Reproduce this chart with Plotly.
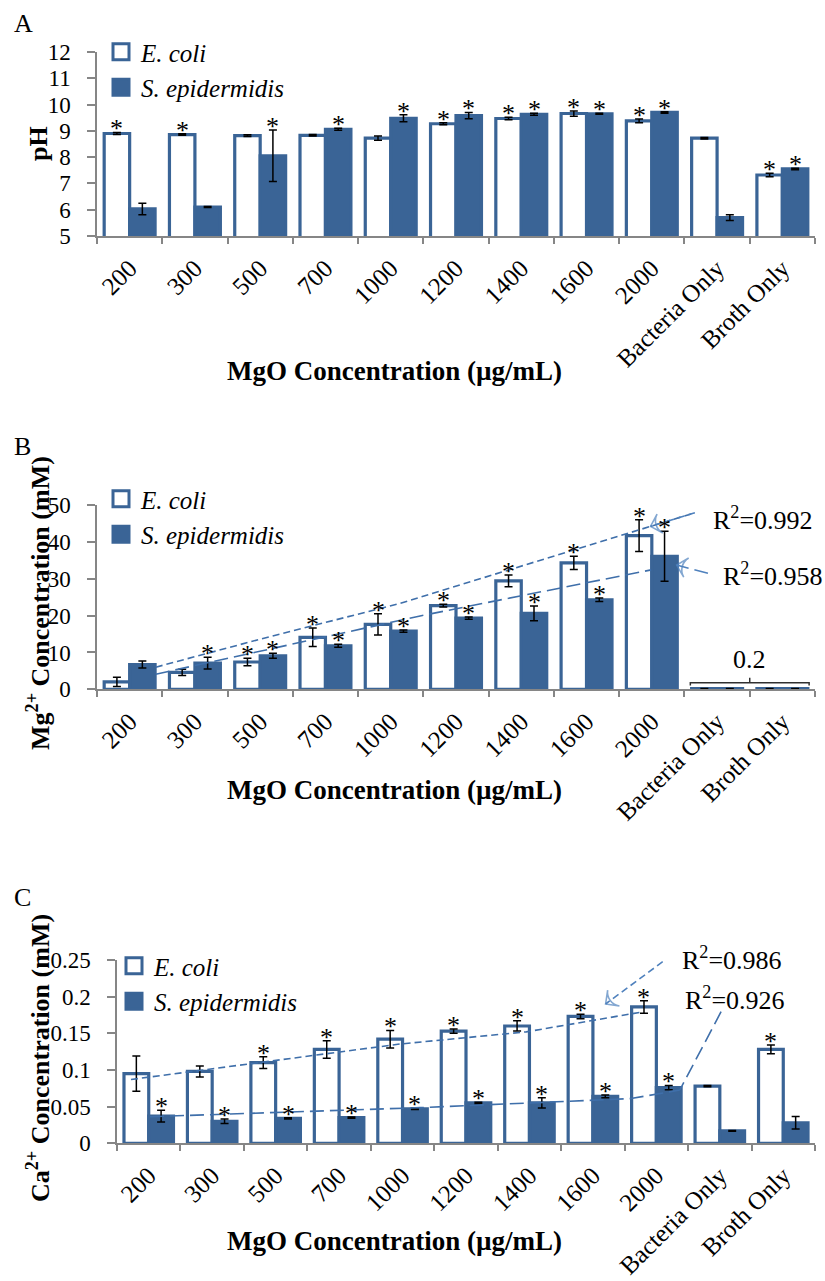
import plotly.graph_objects as go

# ---------------- data ----------------
categories = ["200", "300", "500", "700", "1000", "1200", "1400", "1600", "2000",
              "Bacteria Only", "Broth Only"]

# Panel A: pH
ph_ecoli = [8.90, 8.86, 8.82, 8.83, 8.72, 9.27, 9.47, 9.66, 9.38, 8.72, 7.32]
ph_ecoli_err = [0.04, 0.03, 0.03, 0.03, 0.08, 0.04, 0.05, 0.10, 0.07, 0.03, 0.07]
ph_sepi = [6.03, 6.10, 8.05, 9.06, 9.48, 9.58, 9.63, 9.65, 9.70, 5.70, 7.55]
ph_sepi_err = [0.22, 0.02, 0.98, 0.04, 0.13, 0.12, 0.04, 0.02, 0.03, 0.11, 0.03]
ph_ecoli_sig = [1, 1, 0, 0, 0, 1, 1, 1, 1, 0, 1]
ph_sepi_sig = [0, 0, 1, 1, 1, 1, 1, 1, 1, 0, 1]

# Panel B: Mg2+ (mM)
mg_ecoli = [2.0, 4.6, 7.4, 14.1, 17.6, 22.7, 29.4, 34.3, 41.7, 0.2, 0.2]
mg_ecoli_err = [1.25, 0.85, 1.0, 2.5, 2.9, 0.4, 1.6, 1.8, 4.3, 0.05, 0.05]
mg_sepi = [6.7, 7.1, 9.1, 11.8, 15.8, 19.3, 20.6, 24.3, 36.1, 0.2, 0.2]
mg_sepi_err = [0.95, 1.6, 0.7, 0.4, 0.3, 0.3, 2.0, 0.5, 6.8, 0.05, 0.05]
mg_ecoli_sig = [0, 0, 1, 1, 1, 1, 1, 1, 1, 0, 0]
mg_sepi_sig = [0, 1, 1, 1, 1, 1, 1, 1, 1, 0, 0]
mg_controls_label = "0.2"

# Panel C: Ca2+ (mM)
ca_ecoli = [0.095, 0.098, 0.110, 0.128, 0.142, 0.153, 0.160, 0.173, 0.186, 0.078, 0.128]
ca_ecoli_err = [0.024, 0.0075, 0.008, 0.012, 0.012, 0.003, 0.007, 0.003, 0.0085, 0.001, 0.006]
ca_sepi = [0.037, 0.030, 0.034, 0.035, 0.047, 0.055, 0.055, 0.064, 0.076, 0.017, 0.028]
ca_sepi_err = [0.008, 0.003, 0.001, 0.001, 0.001, 0.001, 0.007, 0.002, 0.003, 0.0005, 0.0086]
ca_ecoli_sig = [0, 0, 1, 1, 1, 1, 1, 1, 1, 0, 1]
ca_sepi_sig = [1, 1, 1, 1, 1, 1, 1, 1, 1, 0, 0]

# Trend lines (category-index position, value)
mg_trend_ecoli_x = [0.40, 2.0, 4.14, 8.66]
mg_trend_ecoli_y = [6.0, 13.6, 23.3, 47.9]
mg_trend_sepi_x = [0.40, 4.45, 7.99]
mg_trend_sepi_y = [4.1, 19.9, 32.4]
ca_trend_ecoli_x = [-0.28, 2.0, 3.96, 5.95, 7.74]
ca_trend_ecoli_y = [0.087, 0.113, 0.1354, 0.152, 0.1786]
ca_trend_sepi_x = [0.02, 4.27, 7.6, 8.37]
ca_trend_sepi_y = [0.0363, 0.0486, 0.061, 0.0727]

# R² callouts: text, arrow tip (x, y), arrow tail (x, y)
mg_r2_ecoli = ("R<sup>2</sup>=0.992", 7.98, 44.2, 8.66, 47.9)
mg_r2_sepi = ("R<sup>2</sup>=0.958", 8.38, 33.7, 8.86, 31.5)
ca_r2_ecoli = ("R<sup>2</sup>=0.986", 7.20, 0.190, 8.10, 0.2477)
ca_r2_sepi = ("R<sup>2</sup>=0.926", 8.37, 0.0727, 9.02, 0.1795)

# ---------------- style ----------------
W, H = 825, 1281
BLUE = "#3A6496"
TREND = "#3F6FAA"
ARROW = "#4F81BD"
GRAY = "#868686"
SERIF = "Liberation Serif"
TICKFONT = dict(family=SERIF, size=23, color="black")
XTICKFONT = dict(family=SERIF, size=25, color="black")
BARGAP = 0.22
OFF = (1 - BARGAP) / 4  # centre offset of each bar inside a group

idx = list(range(len(categories)))
bounds = [i - 0.5 for i in range(len(categories) + 1)]


def px_x(p):
    return p / W


def px_y(p):
    return 1 - p / H


fig = go.Figure()
annotations = []

panels = [
    dict(n=1, xdom=(97, 815), ydom=(52, 236), yrange=[5, 12], dtick=1,
         e=ph_ecoli, ee=ph_ecoli_err, s=ph_sepi, se=ph_sepi_err,
         es=ph_ecoli_sig, ss=ph_sepi_sig,
         legend_xy=(101, 29), letter=("A", 23), xtitle_y=371,
         ytitle=("pH", 144)),
    dict(n=2, xdom=(97, 815), ydom=(505, 689.3), yrange=[0, 50], dtick=10,
         e=mg_ecoli, ee=mg_ecoli_err, s=mg_sepi, se=mg_sepi_err,
         es=mg_ecoli_sig, ss=mg_sepi_sig,
         legend_xy=(101, 476), letter=("B", 447), xtitle_y=790,
         ytitle=("Mg<sup>2+</sup> Concentration (mM)", 603)),
    dict(n=3, xdom=(117, 815), ydom=(960, 1143.3), yrange=[0, 0.25], dtick=0.05,
         e=ca_ecoli, ee=ca_ecoli_err, s=ca_sepi, se=ca_sepi_err,
         es=ca_ecoli_sig, ss=ca_sepi_sig,
         legend_xy=(114, 943), letter=("C", 897), xtitle_y=1241,
         ytitle=("Ca<sup>2+</sup> Concentration (mM)", 1058)),
]

layout_axes = {}
for p in panels:
    n = p["n"]
    xa = "x" if n == 1 else f"x{n}"
    ya = "y" if n == 1 else f"y{n}"
    lg = "legend" if n == 1 else f"legend{n}"
    err_style = dict(type="data", color="black", thickness=1.5, width=4)

    fig.add_trace(go.Bar(
        x=idx, y=p["e"], xaxis=xa, yaxis=ya, showlegend=False,
        marker=dict(color="white", line=dict(color=BLUE, width=3.2)),
        error_y=dict(array=p["ee"], **err_style), hoverinfo="y"))
    fig.add_trace(go.Bar(
        x=idx, y=p["s"], xaxis=xa, yaxis=ya, showlegend=False,
        marker=dict(color=BLUE, line=dict(color=BLUE, width=3.2)),
        error_y=dict(array=p["se"], **err_style), hoverinfo="y"))

    # legend entries
    fig.add_trace(go.Scatter(
        x=[None], y=[None], xaxis=xa, yaxis=ya, mode="markers", legend=lg,
        name="<i>E. coli</i>",
        marker=dict(symbol="square", size=16, color="white",
                    line=dict(color=BLUE, width=3))))
    fig.add_trace(go.Scatter(
        x=[None], y=[None], xaxis=xa, yaxis=ya, mode="markers", legend=lg,
        name="<i>S. epidermidis</i>",
        marker=dict(symbol="square", size=16, color=BLUE,
                    line=dict(color=BLUE, width=3))))

    # significance asterisks above the error bars
    for i in idx:
        for sig, val, err, dx in ((p["es"], p["e"], p["ee"], -OFF),
                                  (p["ss"], p["s"], p["se"], OFF)):
            if sig[i]:
                annotations.append(dict(
                    x=i + dx, y=val[i] + err[i], xref=xa, yref=ya, text="*",
                    showarrow=False, yanchor="bottom", yshift=-13,
                    font=dict(family=SERIF, size=26, color="black")))

    x0, x1 = p["xdom"]
    y0, y1 = p["ydom"]
    layout_axes["xaxis" if n == 1 else f"xaxis{n}"] = dict(
        domain=[px_x(x0), px_x(x1)], anchor=ya, type="linear",
        range=[bounds[0], bounds[-1]],
        tickmode="array", tickvals=idx, ticktext=categories,
        ticks="outside", ticklen=6, tickcolor="rgba(0,0,0,0)",
        minor=dict(tickmode="array", tickvals=bounds, ticks="outside",
                   ticklen=6, tickcolor=GRAY, tickwidth=1.5, showgrid=False),
        showline=True, linecolor=GRAY, linewidth=1.5, tickangle=-45,
        tickfont=XTICKFONT, showgrid=False, zeroline=False)
    layout_axes["yaxis" if n == 1 else f"yaxis{n}"] = dict(
        domain=[px_y(y1), px_y(y0)], anchor=xa, range=p["yrange"],
        dtick=p["dtick"], ticks="outside", ticklen=8, tickcolor=GRAY,
        tickwidth=1.5, showline=True, linecolor=GRAY, linewidth=1.5,
        tickfont=TICKFONT, showgrid=False, zeroline=False,
        ticklabelstandoff=12)
    layout_axes[lg] = dict(
        x=px_x(p["legend_xy"][0]), y=px_y(p["legend_xy"][1]),
        xanchor="left", yanchor="top", bgcolor="rgba(0,0,0,0)",
        font=dict(family=SERIF, size=25, color="black"),
        tracegroupgap=0, itemwidth=30)

    # panel letter, axis titles
    annotations.append(dict(
        x=px_x(12), y=px_y(p["letter"][1]), xref="paper", yref="paper",
        text=p["letter"][0], showarrow=False, xanchor="left", yanchor="middle",
        font=dict(family=SERIF, size=26, color="black")))
    annotations.append(dict(
        x=px_x(394), y=px_y(p["xtitle_y"]), xref="paper", yref="paper",
        text="<b>MgO Concentration (µg/mL)</b>", showarrow=False,
        xanchor="center", yanchor="middle",
        font=dict(family=SERIF, size=27, color="black")))
    annotations.append(dict(
        x=px_x(38), y=px_y(p["ytitle"][1]), xref="paper", yref="paper",
        text="<b>" + p["ytitle"][0] + "</b>", showarrow=False, textangle=-90,
        xanchor="center", yanchor="middle",
        font=dict(family=SERIF, size=26, color="black")))


def line(xs, ys, xa, ya, dash, color=TREND, arrow=False):
    marker = None
    mode = "lines"
    if arrow:
        mode = "lines+markers"
        marker = dict(symbol="arrow-wide-open", size=[0] * (len(xs) - 1) + [14],
                      angleref="previous", color=color,
                      line=dict(color=color, width=1.6))
    fig.add_trace(go.Scatter(
        x=xs, y=ys, xaxis=xa, yaxis=ya, mode=mode, showlegend=False,
        hoverinfo="skip", marker=marker,
        line=dict(color=color, width=1.6, dash=dash)))


SHORT = "7px,4px"
LONG = "14px,6px"

# Trend lines
line(mg_trend_ecoli_x, mg_trend_ecoli_y, "x2", "y2", SHORT)
line(mg_trend_sepi_x, mg_trend_sepi_y, "x2", "y2", LONG)
line(ca_trend_ecoli_x, ca_trend_ecoli_y, "x3", "y3", SHORT)
line(ca_trend_sepi_x, ca_trend_sepi_y, "x3", "y3", LONG)

# R² callouts: dashed leader from the label towards the fit
for (txt, tx, ty, sx, sy), xa, ya, dash, head, lab in (
        (mg_r2_ecoli, "x2", "y2", SHORT, True, (711, 518)),
        (mg_r2_sepi, "x2", "y2", LONG, True, (721, 574)),
        (ca_r2_ecoli, "x3", "y3", SHORT, True, (680, 958)),
        (ca_r2_sepi, "x3", "y3", LONG, False, (683, 998))):
    line([sx, tx], [sy, ty], xa, ya, dash, color=ARROW if head else TREND,
         arrow=head)
    annotations.append(dict(
        x=px_x(lab[0]), y=px_y(lab[1]), xref="paper", yref="paper",
        text=txt, showarrow=False, xanchor="left", yanchor="middle",
        font=dict(family=SERIF, size=26, color="black")))

# Bracket over the two control groups in panel B
ctrl = [len(categories) - 2, len(categories) - 1]
half = (1 - BARGAP) / 2 + 0.02
top = max(mg_ecoli[c] + mg_ecoli_err[c] for c in ctrl)
bx0, bx1 = ctrl[0] - half, ctrl[1] + half
bmid = (bx0 + bx1) / 2
fig.add_trace(go.Scatter(
    x=[bx0, bx0, bmid, bmid, bmid, bx1, bx1],
    y=[top + 0.8, top + 1.5, top + 1.5, top + 2.9, top + 1.5, top + 1.5, top + 0.8],
    xaxis="x2", yaxis="y2", mode="lines", showlegend=False, hoverinfo="skip",
    line=dict(color="#303030", width=1.5)))
annotations.append(dict(
    x=bmid, y=top + 2.9, xref="x2", yref="y2", text=mg_controls_label,
    showarrow=False, yanchor="bottom", yshift=2,
    font=dict(family=SERIF, size=26, color="black")))

fig.update_layout(
    width=W, height=H, margin=dict(l=0, r=0, t=0, b=0, autoexpand=False),
    paper_bgcolor="white", plot_bgcolor="white",
    barmode="group", bargap=BARGAP, bargroupgap=0,
    annotations=annotations,
    font=dict(family=SERIF, color="black"),
    **layout_axes)

fig.write_html("out.html")
